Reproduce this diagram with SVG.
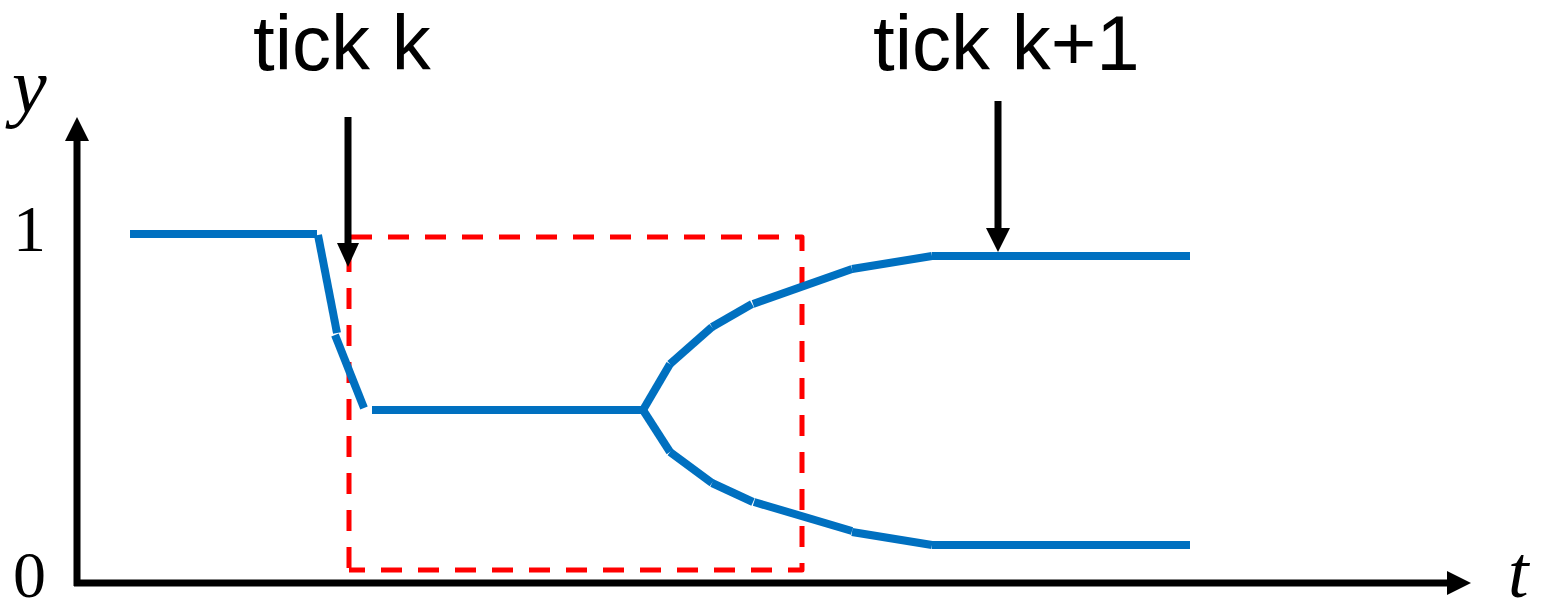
<svg xmlns="http://www.w3.org/2000/svg" width="1548" height="605" viewBox="0 0 1548 605">
<style>
.axis{stroke:#000;stroke-width:7;fill:none}
.head{fill:#000}
.sig{stroke:#0070C0;stroke-width:8;fill:none;stroke-linecap:butt}
.win{stroke:#FF0000;stroke-width:5;fill:none;stroke-dasharray:21 16;stroke-linejoin:round}
.lbl{font-family:"Liberation Sans",Arial,sans-serif;font-size:78px;fill:#000}
.math{font-family:"Liberation Serif","Times New Roman",serif;fill:#000}
</style>
<rect width="1548" height="605" fill="#fff"/>
<g id="axes">
  <line class="axis" x1="77" y1="586" x2="77" y2="138"/>
  <polygon class="head" points="77,117 65,141 89,141"/>
  <line class="axis" x1="74" y1="583" x2="1449" y2="583"/>
  <polygon class="head" points="1471,583 1447,571 1447,595"/>
  <text class="math" x="12" y="112" font-size="78" font-style="italic">y</text>
  <text class="math" x="13" y="251" font-size="66">1</text>
  <text class="math" x="13" y="597" font-size="66">0</text>
  <text class="math" x="1508" y="597" font-size="74" font-style="italic">t</text>
</g>
<g id="window">
  <path class="win" d="M349,568 L349,237 L802,237 L802,570 L349,570"/>
</g>
<g id="signal">
  <line class="sig" x1="130" y1="234" x2="317" y2="234"/>
  <line class="sig" x1="318" y1="235" x2="337" y2="333"/>
  <line class="sig" x1="335" y1="335" x2="364" y2="408"/>
  <line class="sig" x1="372" y1="410" x2="643" y2="410"/>
  <polyline class="sig" points="643,410 670,364"/>
  <line class="sig" x1="670" y1="364" x2="712" y2="327"/>
  <line class="sig" x1="712" y1="327" x2="752" y2="304"/>
  <line class="sig" x1="753" y1="304" x2="852" y2="269"/>
  <line class="sig" x1="852" y1="269" x2="932" y2="256"/>
  <line class="sig" x1="932" y1="256" x2="1190" y2="256"/>
  <polyline class="sig" points="643,410 670,452"/>
  <line class="sig" x1="670" y1="452" x2="712" y2="483"/>
  <line class="sig" x1="712" y1="483" x2="753" y2="502"/>
  <line class="sig" x1="754" y1="502" x2="852" y2="531"/>
  <line class="sig" x1="852" y1="532" x2="932" y2="545"/>
  <line class="sig" x1="932" y1="545" x2="1190" y2="545"/>
</g>
<g id="tick-k">
  <text class="lbl" x="253" y="70">tick k</text>
  <line class="axis" x1="348" y1="117" x2="348" y2="245"/>
  <polygon class="head" points="348,267 337,243 359,243"/>
</g>
<g id="tick-k1">
  <text class="lbl" x="873" y="70">tick k+1</text>
  <line class="axis" x1="998" y1="101" x2="998" y2="230"/>
  <polygon class="head" points="998,252 986,228 1010,228"/>
</g>
</svg>
